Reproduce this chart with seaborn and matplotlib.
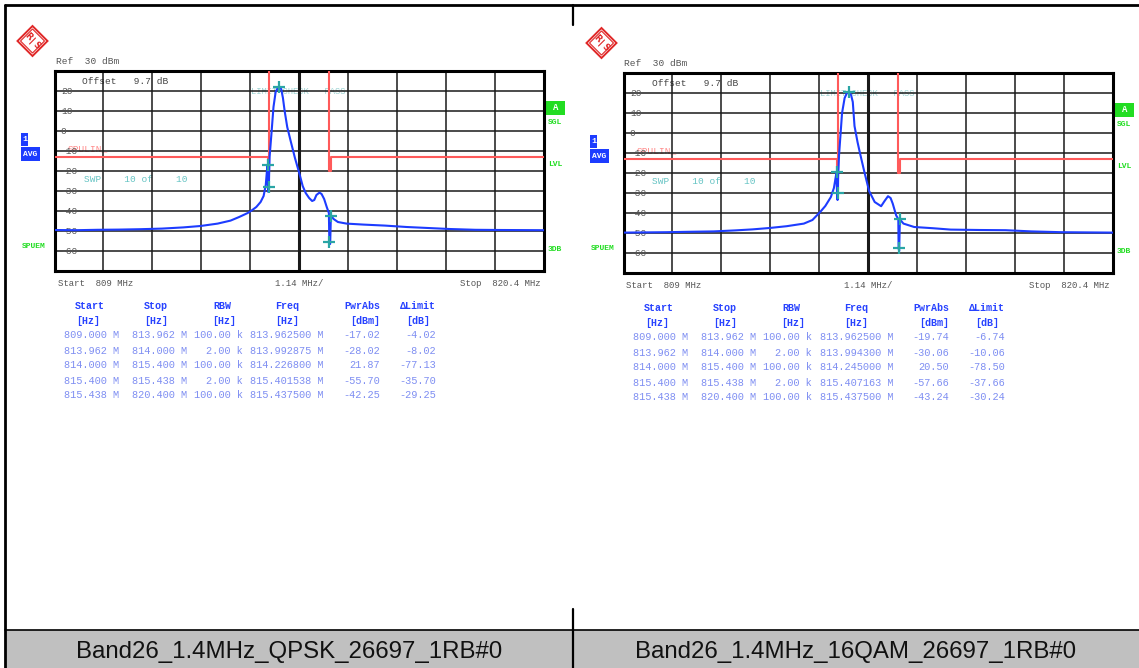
import matplotlib
matplotlib.use("Agg")
import numpy as np
import matplotlib.pyplot as plt
import matplotlib.patches as mpatches
import matplotlib.transforms as mtrans
import seaborn as sns

# ranges of the spurious emission mask (same for both captures)
range_start = [809.000, 813.962, 814.000, 815.400, 815.438]
range_stop = [813.962, 814.000, 815.400, 815.438, 820.400]
rbw_khz = [100.00, 2.00, 100.00, 2.00, 100.00]

# QPSK capture: peak list
qpsk_freq = [813.962500, 813.992875, 814.226800, 815.401538, 815.437500]
qpsk_pwr = [-17.02, -28.02, 21.87, -55.70, -42.25]
qpsk_delta = [-4.02, -8.02, -77.13, -35.70, -29.25]

# 16QAM capture: peak list
qam_freq = [813.962500, 813.994300, 814.245000, 815.407163, 815.437500]
qam_pwr = [-19.74, -30.06, 20.50, -57.66, -43.24]
qam_delta = [-6.74, -10.06, -78.50, -37.66, -30.24]

# traces (MHz, dBm)
qpsk_trace_f = [809.0, 809.5, 810.0, 810.5, 811.0, 811.5, 812.0, 812.4, 812.8, 813.1,
                813.3, 813.5, 813.6, 813.7, 813.8, 813.87, 813.92, 813.955, 813.962, 813.968,
                813.98, 813.993, 813.998, 814.01, 814.05, 814.1, 814.15, 814.2, 814.23, 814.28,
                814.32, 814.36, 814.42, 814.5, 814.6, 814.7, 814.78, 814.85, 814.93, 815.0,
                815.05, 815.1, 815.17, 815.22, 815.28, 815.34, 815.39, 815.401, 815.42, 815.437,
                815.5, 815.6, 815.8, 816.2, 816.7, 817.2, 817.7, 818.2, 818.8, 819.4, 820.4]
qpsk_trace_db = [-49.5, -49.6, -49.4, -49.3, -49.1, -48.8, -48.2, -47.5, -46.3, -44.8,
                 -43.0, -41.0, -39.6, -38.0, -35.5, -32.5, -27.0, -18.0, -17.2, -26.0,
                 -30.5, -28.0, -22.0, -12.8, -2.0, 12.0, 19.5, 21.5, 21.9, 21.0,
                 16.5, 10.0, 2.0, -5.0, -13.5, -21.0, -27.5, -31.0, -33.5, -35.0,
                 -34.5, -32.0, -30.8, -31.5, -34.0, -38.0, -41.0, -55.7, -56.5, -42.3,
                 -44.0, -45.5, -46.3, -46.8, -47.3, -48.0, -48.5, -49.0, -49.4, -49.5, -49.6]

qam_trace_f = [809.0, 809.5, 810.0, 810.5, 811.1, 811.6, 812.0, 812.4, 812.8, 813.2,
               813.4, 813.58, 813.7, 813.83, 813.9, 813.935, 813.96, 813.97, 813.985, 813.994,
               813.999, 814.02, 814.05, 814.09, 814.15, 814.21, 814.245, 814.3, 814.34, 814.38,
               814.45, 814.51, 814.61, 814.72, 814.85, 815.0, 815.08, 815.16, 815.22, 815.27,
               815.35, 815.4, 815.407, 815.42, 815.437, 815.52, 815.77, 816.2, 816.62, 817.3,
               817.9, 818.5, 819.2, 820.4]
qam_trace_db = [-49.8, -49.7, -49.6, -49.4, -49.2, -48.7, -48.2, -47.5, -46.6, -45.3,
                -43.5, -39.5, -36.5, -32.0, -27.5, -23.0, -19.8, -28.0, -33.5, -30.1,
                -22.0, -11.0, -2.0, 10.0, 17.5, 20.3, 20.5, 19.0, 15.5, 3.5,
                -4.5, -10.3, -19.5, -29.0, -34.5, -36.6, -34.0, -31.6, -32.5, -35.3,
                -41.2, -43.0, -57.7, -59.0, -43.2, -45.3, -47.0, -47.6, -48.3, -48.5,
                -48.6, -49.2, -49.6, -49.8]

captions = ["Band26_1.4MHz_QPSK_26697_1RB#0", "Band26_1.4MHz_16QAM_26697_1RB#0"]

f_start, f_stop, f_div = 809.0, 820.4, 1.14
ref_level, db_div = 30, 10

W, H = 1139, 668
MONO = ["Liberation Mono", "DejaVu Sans Mono"]
SANS = ["Liberation Sans", "DejaVu Sans"]
BLUE = "#1d3cff"
GREEN = "#22dd22"
TEAL = "#2aa5a5"
RED = "#ff5a5a"

sns.set_style("white")
fig = plt.figure(figsize=(W / 100, H / 100), dpi=100)

bg = fig.add_axes([0, 0, 1, 1])
bg.set_xlim(0, W)
bg.set_ylim(H, 0)
bg.axis("off")


def px_axes(x0, y0, x1, y1):
    return fig.add_axes([x0 / W, 1 - y1 / H, (x1 - x0) / W, (y1 - y0) / H])


def txt(x, y, s, size=6.8, color="#555555", **kw):
    bg.text(x, y, s, fontsize=size, color=color, family=MONO, va="center", **kw)


def draw_logo(cx, cy):
    bg.add_patch(mpatches.RegularPolygon((cx, cy), 4, radius=15, fc="white", ec="#e02828", lw=1.4))
    bg.add_patch(mpatches.RegularPolygon((cx, cy), 4, radius=12, fc="none", ec="#e02828", lw=0.8))
    bg.text(cx - 4, cy - 4, "R", fontsize=6, color="#e02828", weight="bold", ha="center", va="center", rotation=-45)
    bg.text(cx + 4, cy + 4, "S", fontsize=6, color="#e02828", weight="bold", ha="center", va="center", rotation=-45)
    bg.plot([cx - 3, cx + 3], [cy + 3, cy - 3], color="#e02828", lw=0.8)


def draw_panel(dx, dy, trace_f, trace_db, mk_f, mk_pwr, mk_delta, caption):
    draw_logo(32.5 + dx, 41 + dy)
    txt(55.5 + dx, 62 + dy, "Ref  30 dBm")
    txt(82.5 + dx, 81 + dy, "Offset   9.7 dB", color="#444444")
    txt(251 + dx, 92 + dy, "LIMIT CHECK   PASS", size=6.3, color="#9fd3d3")
    txt(68 + dx, 148.5 + dy, "SPULIN_", color="#ff8a8a")
    txt(83.5 + dx, 179.5 + dy, "SWP    10 of    10", color="#66c4c4")
    txt(57.5 + dx, 283 + dy, "Start  809 MHz", size=6.5)
    txt(299 + dx, 283 + dy, "1.14 MHz/", size=6.5, ha="center")
    txt(541 + dx, 283 + dy, "Stop  820.4 MHz", size=6.5, ha="right")

    # side indicators
    bg.add_patch(mpatches.Rectangle((21 + dx, 133 + dy), 7, 13, fc=BLUE, ec="none"))
    bg.text(24.5 + dx, 139.5 + dy, "1", fontsize=6, color="white", weight="bold", family=MONO, ha="center", va="center")
    bg.add_patch(mpatches.Rectangle((21 + dx, 147 + dy), 19, 14, fc=BLUE, ec="none"))
    bg.text(30.5 + dx, 154 + dy, "AVG", fontsize=5.8, color="white", weight="bold", family=MONO, ha="center", va="center")
    bg.text(22 + dx, 247 + dy, "SPUEM", fontsize=5.8, color=GREEN, weight="bold", family=MONO, va="center")
    bg.add_patch(mpatches.Rectangle((546 + dx, 101 + dy), 19, 14, fc=GREEN, ec="none"))
    bg.text(555.5 + dx, 108 + dy, "A", fontsize=6.5, color="white", weight="bold", family=MONO, ha="center", va="center")
    for yy, s in [(123, "SGL"), (164.5, "LVL"), (249.5, "3DB")]:
        bg.text(548 + dx, yy + dy, s, fontsize=5.8, color=GREEN, weight="bold", family=MONO, va="center")

    # screen
    ax = px_axes(54.5 + dx, 71 + dy, 544 + dx, 271 + dy)
    ax.set_facecolor("none")
    ax.set_xlim(f_start, f_stop)
    ax.set_ylim(ref_level - 10 * db_div, ref_level)
    xs = np.linspace(f_start, f_stop, 11)[1:-1]
    for i, x in enumerate(xs):
        ax.axvline(x, color="#1a1a1a", lw=2.2 if i == 4 else 1.1, zorder=1)
    for v in range(ref_level - db_div, ref_level - 10 * db_div, -db_div):
        ax.axhline(v, color="#1a1a1a", lw=1.1, zorder=1)
    tr = mtrans.blended_transform_factory(ax.transAxes, ax.transData)
    for v in range(20, -70, -10):
        ax.text(0.013, v, str(v), transform=tr, fontsize=6.8, family=MONO, color="#555555", va="center", zorder=2)

    # limit line derived from the table: limit = PwrAbs - delta
    limits = [round(p - d, 2) for p, d in zip(mk_pwr, mk_delta)]
    lx, ly = [], []
    for s, e, lim in zip(range_start, range_stop, limits):
        lx += [s, e]
        ly += [lim, lim]
    ax.plot(lx, ly, color=RED, lw=1.5, zorder=3)

    sns.lineplot(x=trace_f, y=trace_db, ax=ax, color=BLUE, lw=1.5, estimator=None, sort=False, zorder=4)
    sns.scatterplot(x=mk_f, y=mk_pwr, ax=ax, marker="+", s=70, color=TEAL, linewidth=1.6, zorder=5)

    ax.set_xlabel("")
    ax.set_ylabel("")
    ax.set_xticks([])
    ax.set_yticks([])
    for sp in ax.spines.values():
        sp.set_visible(True)
        sp.set_color("black")
        sp.set_linewidth(2.2)

    # peak list table
    heads = [(90, "Start"), (156, "Stop"), (222, "RBW"), (287, "Freq"), (362, "PwrAbs"), (418, "\u0394Limit")]
    units = [(88, "[Hz]"), (156, "[Hz]"), (224, "[Hz]"), (287, "[Hz]"), (365, "[dBm]"), (418, "[dB]")]
    for (x, s) in heads:
        bg.text(x + dx, 306 + dy, s, fontsize=7.2, weight="bold", color="#2742ff", family=MONO, ha="center", va="center")
    for (x, s) in units:
        bg.text(x + dx, 321.5 + dy, s, fontsize=7.2, weight="bold", color="#2742ff", family=MONO, ha="center", va="center")
    right_edges = [119, 187, 243, 324, 380, 436]
    for i in range(len(range_start)):
        cells = [f"{range_start[i]:.3f} M", f"{range_stop[i]:.3f} M", f"{rbw_khz[i]:.2f} k",
                 f"{mk_f[i]:.6f} M", f"{mk_pwr[i]:.2f}", f"{mk_delta[i]:.2f}"]
        for xr, s in zip(right_edges, cells):
            bg.text(xr + dx, 335.5 + 15 * i + dy, s, fontsize=7.4, color="#7e8ef2", family=MONO, ha="right", va="center")


draw_panel(0, 0, qpsk_trace_f, qpsk_trace_db, qpsk_freq, qpsk_pwr, qpsk_delta, captions[0])
draw_panel(569, 2, qam_trace_f, qam_trace_db, qam_freq, qam_pwr, qam_delta, captions[1])

# caption bar and frame
bg.add_patch(mpatches.Rectangle((5, 630), W - 5, 38, fc="#c0c0c0", ec="none"))
bg.plot([5, W], [629.5, 629.5], color="black", lw=1.2)
bg.text(289, 652, captions[0], fontsize=17.3, family=SANS, color="#111111", ha="center", va="center")
bg.text(856, 652, captions[1], fontsize=17.3, family=SANS, color="#111111", ha="center", va="center")
bg.plot([5, 5], [5, H], color="black", lw=2)
bg.plot([5, W], [5, 5], color="black", lw=2)
bg.plot([573, 573], [5, 25], color="black", lw=1.6)
bg.plot([573, 573], [609, H], color="black", lw=1.6)

fig.savefig("out.png", dpi=100)
